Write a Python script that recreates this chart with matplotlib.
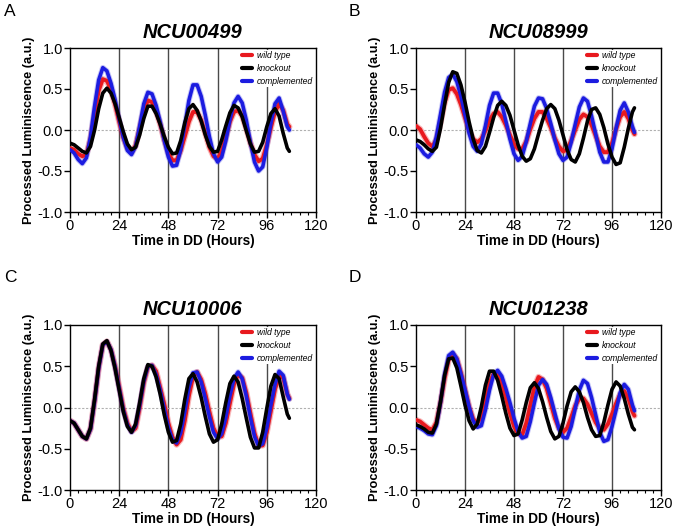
import matplotlib
matplotlib.use("Agg")
import matplotlib.pyplot as plt
from matplotlib.ticker import MultipleLocator

plt.rcParams['font.family'] = ['Liberation Sans', 'DejaVu Sans']

# sampling times (hours in DD)
hours = list(range(0, 107, 2)) + [107]

genes = ["NCU00499", "NCU08999", "NCU10006", "NCU01238"]
letters = ["A", "B", "C", "D"]
labels = ["wild type", "knockout", "complemented"]

# processed luminescence
a_wt = [-0.22,-0.24,-0.29,-0.32,-0.30,-0.11,0.19,0.48,0.62,0.60,
        0.49,0.31,0.10,-0.09,-0.22,-0.27,-0.19,0.02,0.24,0.36,
        0.34,0.23,0.07,-0.12,-0.28,-0.37,-0.37,-0.25,-0.08,0.10,
        0.22,0.22,0.12,-0.04,-0.21,-0.32,-0.35,-0.26,-0.09,0.10,
        0.22,0.24,0.17,0.02,-0.16,-0.30,-0.38,-0.35,-0.18,0.03,
        0.22,0.32,0.24,0.07,0.04]
a_ko = [-0.16,-0.18,-0.22,-0.26,-0.28,-0.20,0.00,0.26,0.45,0.51,
        0.45,0.32,0.15,-0.02,-0.17,-0.24,-0.21,-0.06,0.14,0.29,
        0.29,0.20,0.07,-0.08,-0.21,-0.29,-0.28,-0.13,0.09,0.26,
        0.31,0.24,0.11,-0.06,-0.20,-0.27,-0.26,-0.12,0.05,0.21,
        0.30,0.27,0.16,-0.01,-0.17,-0.27,-0.26,-0.15,0.04,0.20,
        0.26,0.17,-0.04,-0.22,-0.26]
a_comp = [-0.24,-0.28,-0.36,-0.41,-0.34,-0.08,0.29,0.61,0.76,0.72,
          0.57,0.37,0.13,-0.09,-0.25,-0.30,-0.20,0.05,0.32,0.46,
          0.44,0.30,0.10,-0.13,-0.33,-0.44,-0.43,-0.24,0.06,0.36,
          0.55,0.55,0.41,0.18,-0.08,-0.29,-0.39,-0.33,-0.13,0.12,
          0.33,0.41,0.33,0.12,-0.15,-0.39,-0.50,-0.45,-0.21,0.08,
          0.32,0.39,0.23,0.04,0.00]

b_wt = [0.05,0.01,-0.08,-0.16,-0.20,-0.12,0.09,0.33,0.49,0.51,
        0.44,0.31,0.15,0.00,-0.11,-0.15,-0.11,-0.01,0.12,0.20,
        0.22,0.16,0.06,-0.06,-0.17,-0.23,-0.23,-0.14,0.01,0.14,
        0.22,0.22,0.14,0.03,-0.10,-0.20,-0.26,-0.24,-0.13,0.00,
        0.13,0.19,0.16,0.06,-0.07,-0.20,-0.27,-0.27,-0.16,0.01,
        0.16,0.22,0.14,0.00,-0.05]
b_ko = [-0.12,-0.14,-0.18,-0.23,-0.26,-0.21,0.02,0.31,0.58,0.71,
        0.69,0.55,0.34,0.10,-0.11,-0.25,-0.28,-0.20,-0.03,0.15,
        0.30,0.35,0.30,0.18,0.00,-0.18,-0.32,-0.38,-0.35,-0.23,
        -0.05,0.12,0.26,0.31,0.26,0.12,-0.06,-0.24,-0.36,-0.39,
        -0.29,-0.10,0.11,0.25,0.27,0.19,0.03,-0.17,-0.33,-0.42,
        -0.40,-0.21,0.02,0.22,0.27]
b_comp = [-0.18,-0.22,-0.29,-0.33,-0.27,-0.08,0.19,0.46,0.64,0.68,
          0.59,0.41,0.18,-0.04,-0.20,-0.26,-0.17,0.05,0.30,0.45,
          0.45,0.32,0.11,-0.11,-0.29,-0.37,-0.32,-0.14,0.08,0.29,
          0.39,0.38,0.26,0.08,-0.12,-0.29,-0.37,-0.33,-0.15,0.07,
          0.28,0.39,0.35,0.17,-0.05,-0.27,-0.39,-0.39,-0.23,0.02,
          0.24,0.33,0.22,0.04,-0.03]

c_wt = [-0.16,-0.19,-0.27,-0.35,-0.38,-0.26,0.08,0.48,0.76,0.80,
        0.70,0.50,0.25,-0.01,-0.19,-0.29,-0.25,0.00,0.30,0.49,
        0.51,0.44,0.24,0.04,-0.19,-0.36,-0.45,-0.39,-0.16,0.14,
        0.37,0.43,0.34,0.17,-0.05,-0.25,-0.35,-0.35,-0.19,0.05,
        0.28,0.40,0.36,0.18,-0.07,-0.31,-0.46,-0.46,-0.30,-0.04,
        0.22,0.38,0.36,0.16,0.11]
c_ko = [-0.16,-0.19,-0.27,-0.35,-0.38,-0.25,0.10,0.50,0.77,0.81,
        0.69,0.47,0.21,-0.05,-0.23,-0.30,-0.20,0.06,0.35,0.52,
        0.50,0.37,0.16,-0.09,-0.30,-0.42,-0.40,-0.20,0.10,0.35,
        0.41,0.31,0.12,-0.11,-0.32,-0.42,-0.39,-0.20,0.06,0.29,
        0.38,0.31,0.11,-0.13,-0.36,-0.49,-0.49,-0.30,-0.01,0.26,
        0.40,0.35,0.13,-0.08,-0.13]
c_comp = [-0.16,-0.19,-0.27,-0.35,-0.38,-0.26,0.08,0.48,0.76,0.80,
          0.70,0.49,0.23,-0.03,-0.21,-0.30,-0.22,0.03,0.32,0.50,
          0.51,0.40,0.21,-0.02,-0.24,-0.39,-0.43,-0.31,-0.05,0.24,
          0.42,0.43,0.31,0.11,-0.11,-0.30,-0.38,-0.32,-0.12,0.14,
          0.35,0.43,0.35,0.14,-0.12,-0.35,-0.47,-0.44,-0.25,0.03,
          0.28,0.44,0.39,0.16,0.10]

d_wt = [-0.15,-0.17,-0.21,-0.25,-0.27,-0.18,0.06,0.35,0.58,0.65,
        0.59,0.42,0.22,0.01,-0.14,-0.19,-0.11,0.09,0.30,0.41,
        0.39,0.28,0.12,-0.07,-0.23,-0.32,-0.33,-0.19,0.03,0.25,
        0.37,0.34,0.23,0.05,-0.13,-0.25,-0.30,-0.25,-0.12,0.02,
        0.11,0.11,0.04,-0.07,-0.18,-0.25,-0.27,-0.20,-0.08,0.05,
        0.16,0.20,0.11,-0.05,-0.10]
d_ko = [-0.21,-0.23,-0.26,-0.30,-0.31,-0.20,0.07,0.39,0.59,0.60,
        0.48,0.26,0.03,-0.16,-0.26,-0.20,0.01,0.27,0.44,0.44,
        0.33,0.14,-0.07,-0.25,-0.34,-0.32,-0.15,0.06,0.24,0.30,
        0.23,0.07,-0.12,-0.29,-0.38,-0.35,-0.19,0.02,0.19,0.25,
        0.19,0.06,-0.12,-0.27,-0.35,-0.34,-0.18,0.03,0.22,0.31,
        0.26,0.11,-0.08,-0.24,-0.27]
d_comp = [-0.23,-0.25,-0.28,-0.32,-0.33,-0.22,0.06,0.40,0.63,0.67,
          0.59,0.41,0.22,0.01,-0.16,-0.24,-0.22,-0.03,0.21,0.40,
          0.45,0.38,0.23,0.06,-0.13,-0.29,-0.37,-0.35,-0.17,0.06,
          0.27,0.34,0.28,0.12,-0.07,-0.26,-0.36,-0.37,-0.23,-0.01,
          0.21,0.33,0.29,0.12,-0.09,-0.30,-0.41,-0.39,-0.23,-0.03,
          0.18,0.28,0.22,0.03,-0.04]

panels = [(a_wt, a_ko, a_comp), (b_wt, b_ko, b_comp),
          (c_wt, c_ko, c_comp), (d_wt, d_ko, d_comp)]

red = "#e8191e"
blue = "#1c1ce0"

W, H = 673, 526
fig = plt.figure(figsize=(W / 100, H / 100), dpi=100)

# axes boxes in pixels: left, right, top, bottom
boxes = [(70, 316, 48, 212), (416, 661, 48, 212),
         (70, 316, 325, 490), (416, 661, 325, 490)]
letter_pos = [(4, 12), (349, 12), (4, 278), (349, 278)]

kw = dict(solid_capstyle="round", solid_joinstyle="round")

for i in range(4):
    l, r, t, b = boxes[i]
    ax = fig.add_axes([l / W, 1 - b / H, (r - l) / W, (b - t) / H])
    wt, ko, comp = panels[i]

    for xv in [24, 48, 72, 96]:
        ax.axvline(xv, color="#4a4a4a", lw=1.0, zorder=1)
    ax.axhline(0, color="#b0b0b0", lw=0.8, ls=(0, (2, 1.5)), zorder=1)

    # faint halo standing in for the error band
    ax.plot(hours, wt, color=red, lw=4.5, alpha=0.3, zorder=2, **kw)
    ax.plot(hours, comp, color=blue, lw=4.0, alpha=0.25, zorder=2, **kw)

    ax.plot(hours, wt, color=red, lw=2.8, label=labels[0], zorder=3, **kw)
    ax.plot(hours, comp, color=blue, lw=2.6, label=labels[2], zorder=4, **kw)
    ax.plot(hours, ko, color="black", lw=2.6, label=labels[1], zorder=5, **kw)

    ax.set_xlim(0, 120)
    ax.set_ylim(-1, 1)
    ax.set_xticks([0, 24, 48, 72, 96, 120])
    ax.xaxis.set_minor_locator(MultipleLocator(4))
    ax.set_yticks([-1.0, -0.5, 0.0, 0.5, 1.0])
    ax.set_yticklabels(["-1.0", "-0.5", "0.0", "0.5", "1.0"])
    ax.tick_params(axis="both", which="major", direction="out", length=4,
                   width=1, labelsize=10.5, pad=1)
    ax.tick_params(axis="x", which="minor", direction="out", length=2.5, width=0.8)
    for s in ax.spines.values():
        s.set_linewidth(1)

    ax.set_xlabel("Time in DD (Hours)", fontsize=9.8, fontweight="bold", labelpad=1)
    ax.set_ylabel("Processed Luminiscence (a.u.)", fontsize=9.2, fontweight="bold",
                  labelpad=2)
    ax.set_title(genes[i], fontsize=14.5, fontweight="bold", fontstyle="italic", pad=7)

    h, lab = ax.get_legend_handles_labels()
    order = [0, 2, 1]
    leg = ax.legend([h[k] for k in order], [lab[k] for k in order],
                    loc="upper right", frameon=True,
                    handlelength=1.1, handletextpad=0.6, labelspacing=0.45,
                    borderaxespad=0.2, borderpad=0.15,
                    prop={"style": "italic", "size": 6.2})
    leg.get_frame().set_edgecolor("none")
    leg.get_frame().set_facecolor("white")
    leg.get_frame().set_alpha(1)
    leg.set_zorder(6)
    for ln in leg.get_lines():
        ln.set_linewidth(3)

    fig.text(letter_pos[i][0] / W, 1 - letter_pos[i][1] / H, letters[i],
             fontsize=12.5, ha="left", va="center")

fig.savefig("out.png", dpi=100)
